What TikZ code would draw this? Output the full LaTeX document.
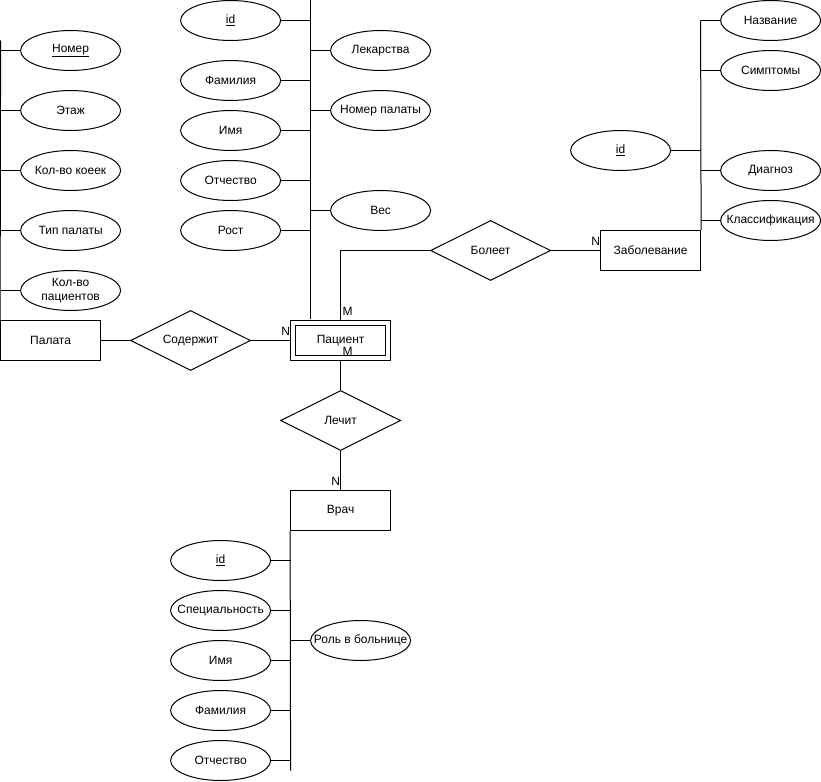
\documentclass[tikz,border=0pt]{standalone}
\usepackage{fontspec}
\setmainfont{Liberation Sans}
\usetikzlibrary{shapes.geometric}
\newcommand{\zw}[1]{\makebox[0pt][c]{#1}}
\begin{document}
\begin{tikzpicture}[x=1pt,y=-1pt,line width=1pt,
  every node/.style={font=\fontsize{12}{14.4}\selectfont},
  attr/.style={ellipse,draw,minimum width=100pt,minimum height=40pt,inner sep=0pt},
  ent/.style={rectangle,draw,minimum width=100pt,minimum height=40pt,inner sep=0pt},
  rel/.style={diamond,draw,minimum width=120pt,minimum height=60pt,inner sep=0pt,aspect=2},
  card/.style={inner sep=0pt}]
\useasboundingbox (-0.6,-0.5) rectangle (820.4,780.5);

% ---- entities
\node[ent] (pal) at (50,340) {Палата};
\node[ent,minimum width=100pt] (pac) at (340,340) {};
\node[ent,minimum width=90pt,minimum height=30pt] (pacin) at (340,340) {Пациент};
\node[ent] (zab) at (650,250) {Заболевание};
\node[ent] (vr) at (340,510) {Врач};

% ---- relations
\node[rel] (sod) at (190,340) {Содержит};
\node[rel] (bol) at (490,250) {Болеет};
\node[rel] (lech) at (340,420) {Лечит};

\draw (pal.east) -- (sod.west);
\draw (sod.east) -- (pac.west);
\draw (pac.north) -- (340,250) -- (bol.west);
\draw (bol.east) -- (zab.west);
\draw (pac.south) -- (lech.north);
\draw (lech.south) -- (vr.north);

\node[card] (c1) at (347,311) {M};
\node[card] (c2) at (285,331) {N};
\node[card] (c3) at (347,351) {M};
\node[card] (c4) at (595,241) {N};
\node[card] (c5) at (335,481) {N};

% ---- Palata attributes
\coordinate (palT) at (0,40);
\draw (palT) -- (pal.north west);
\node[attr] (p1) at (70,50) {\zw{\underline{Номер}}};
\node[attr] (p2) at (70,110) {\zw{Этаж}};
\node[attr] (p3) at (70,170) {\zw{Кол-во коеек}};
\node[attr] (p4) at (70,230) {\zw{Тип палаты}};
\node[attr] (p5) at (70,290) {\zw{\begin{tabular}{@{}c@{}}Кол-во\\[-1pt]пациентов\end{tabular}}};
\foreach \n in {p1,p2,p3,p4,p5} \draw (\n.west) -- (\n.west -| palT);

% ---- Patient attributes
\coordinate (pacT) at (310,0);
\coordinate (pacB) at (310,318);
\draw (pacT) -- (pacB);
\node[attr] (a1) at (230,20) {\zw{\underline{id}}};
\node[attr] (a2) at (230,80) {\zw{Фамилия}};
\node[attr] (a3) at (230,130) {\zw{Имя}};
\node[attr] (a4) at (230,180) {\zw{Отчество}};
\node[attr] (a5) at (230,230) {\zw{Рост}};
\foreach \n in {a1,a2,a3,a4,a5} \draw (\n.east) -- (\n.east -| pacT);
\node[attr] (b1) at (380,50) {\zw{Лекарства}};
\node[attr] (b2) at (380,110) {\zw{Номер палаты}};
\node[attr] (b3) at (380,210) {\zw{Вес}};
\foreach \n in {b1,b2,b3} \draw (\n.west) -- (\n.west -| pacT);

% ---- Zabolevanie attributes
\coordinate (zabT) at (700,20);
\draw (zabT) -- (zab.north east);
\node[attr] (z1) at (770,20) {\zw{Название}};
\node[attr] (z2) at (770,70) {\zw{Симптомы}};
\node[attr] (z3) at (770,170) {\zw{Диагноз}};
\node[attr] (z4) at (770,220) {\zw{Классификация}};
\foreach \n in {z1,z2,z3,z4} \draw (\n.west) -- (\n.west -| zabT);
\node[attr] (z0) at (620,150) {\zw{\underline{id}}};
\draw (z0.east) -- (z0.east -| zabT);

% ---- Vrach attributes
\coordinate (vrB) at (290,770);
\draw (vr.south west) -- (vrB);
\node[attr] (v1) at (220,560) {\zw{\underline{id}}};
\node[attr] (v2) at (220,610) {\zw{Специальность}};
\node[attr] (v3) at (220,660) {\zw{Имя}};
\node[attr] (v4) at (220,710) {\zw{Фамилия}};
\node[attr] (v5) at (220,760) {\zw{Отчество}};
\foreach \n in {v1,v2,v3,v4,v5} \draw (\n.east) -- (\n.east -| vrB);
\node[attr] (v6) at (360,640) {\zw{Роль в больнице}};
\draw (v6.west) -- (v6.west -| vrB);
\end{tikzpicture}
\end{document}
